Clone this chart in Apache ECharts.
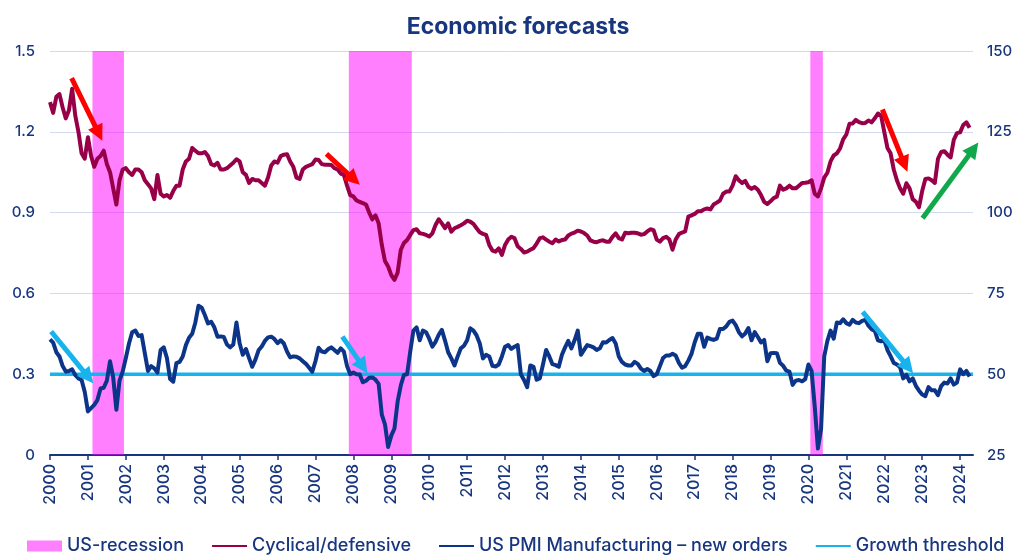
<!DOCTYPE html>
<html>
<head>
<meta charset="utf-8">
<title>Economic forecasts</title>
<script src="https://cdn.jsdelivr.net/npm/echarts@6/dist/echarts.min.js"></script>
<style>
html, body { margin: 0; padding: 0; background: #fff; }
#chart { width: 1017px; height: 555px; }
</style>
</head>
<body>
<div id="chart"></div>
<script>
// monthly series, Jan 2000 .. Apr 2024
var START_YEAR = 2000;
var X_MAX = 2024.34;
var YEARS = [];
for (var y = 2000; y <= 2024; y++) YEARS.push(y);

// Cyclical/defensive ratio (left axis)
var cyclicalDefensive = [
  1.31, 1.27, 1.33, 1.34, 1.29, 1.25, 1.28, 1.36, 1.26, 1.20, 1.12, 1.10, // 2000
  1.18, 1.11, 1.07, 1.10, 1.11, 1.13, 1.08, 1.05, 0.99, 0.93, 1.02, 1.06, // 2001
  1.065, 1.05, 1.04, 1.06, 1.06, 1.05, 1.02, 1.005, 0.99, 0.95, 1.04, 0.97,
  0.96, 0.965, 0.955, 0.98, 1.00, 1.00, 1.06, 1.09, 1.10, 1.14, 1.13, 1.12,
  1.12, 1.125, 1.11, 1.08, 1.075, 1.085, 1.06, 1.06, 1.065, 1.075, 1.085, 1.098,
  1.09, 1.05, 1.04, 1.01, 1.025, 1.02, 1.02, 1.01, 1.00, 1.03, 1.075, 1.09, // 2005
  1.085, 1.11, 1.115, 1.117, 1.09, 1.07, 1.03, 1.025, 1.06, 1.07, 1.075, 1.08,
  1.097, 1.095, 1.08, 1.078, 1.078, 1.077, 1.065, 1.06, 1.045, 1.04, 1.00, 0.965,
  0.96, 0.945, 0.94, 0.935, 0.93, 0.90, 0.875, 0.89, 0.86, 0.78, 0.72, 0.70,
  0.668, 0.65, 0.677, 0.761, 0.787, 0.798, 0.817, 0.835, 0.838, 0.823, 0.821, 0.817,
  0.811, 0.823, 0.854, 0.875, 0.86, 0.842, 0.86, 0.829, 0.842, 0.847, 0.853, 0.86, // 2010
  0.87, 0.866, 0.858, 0.842, 0.827, 0.821, 0.817, 0.78, 0.759, 0.755, 0.767, 0.743,
  0.78, 0.80, 0.81, 0.805, 0.775, 0.765, 0.752, 0.755, 0.762, 0.768, 0.785, 0.805,
  0.808, 0.80, 0.792, 0.786, 0.80, 0.793, 0.798, 0.80, 0.815, 0.822, 0.826, 0.833,
  0.83, 0.824, 0.815, 0.797, 0.792, 0.79, 0.795, 0.797, 0.792, 0.792, 0.81, 0.823,
  0.805, 0.80, 0.825, 0.823, 0.825, 0.825, 0.823, 0.818, 0.82, 0.83, 0.838, 0.835, // 2015
  0.80, 0.792, 0.805, 0.81, 0.80, 0.762, 0.80, 0.82, 0.826, 0.83, 0.885, 0.89,
  0.895, 0.905, 0.905, 0.912, 0.915, 0.912, 0.93, 0.937, 0.945, 0.97, 0.978, 0.978,
  1.0, 1.035, 1.02, 1.01, 1.018, 0.996, 0.988, 0.995, 0.985, 0.965, 0.94, 0.932,
  0.942, 0.954, 0.959, 1.00, 0.985, 0.99, 1.0, 0.99, 0.99, 1.0, 1.01, 1.011,
  1.013, 1.02, 0.97, 0.96, 0.99, 1.03, 1.048, 1.09, 1.112, 1.12, 1.138, 1.172, // 2020
  1.19, 1.23, 1.231, 1.244, 1.236, 1.232, 1.233, 1.242, 1.235, 1.25, 1.268, 1.26,
  1.20, 1.14, 1.12, 1.06, 1.02, 0.99, 0.97, 1.009, 0.99, 0.95, 0.94, 0.92,
  0.98, 1.025, 1.027, 1.02, 1.01, 1.10, 1.125, 1.128, 1.115, 1.105, 1.17, 1.195,
  1.198, 1.225, 1.235, 1.215 // 2024
];

// US PMI Manufacturing - new orders (right axis)
var pmiNewOrders = [
  60.8, 59.8, 56.8, 55.5, 52.5, 50.8, 51.0, 51.5, 49.7, 48.7, 48.2, 44.5, // 2000
  38.5, 39.5, 40.5, 42.0, 45.6, 45.8, 48.0, 54.0, 49.0, 39.0, 48.0, 50.8,
  55.0, 59.5, 63.0, 63.5, 61.8, 62.1, 56.5, 51.0, 52.5, 51.8, 50.5, 57.5,
  58.3, 55.0, 48.5, 47.7, 53.4, 53.8, 55.5, 59.0, 61.3, 62.5, 66.0, 71.2,
  70.6, 68.3, 65.7, 66.2, 64.5, 61.6, 61.7, 61.5, 59.2, 58.3, 59.2, 66.0,
  59.6, 56.0, 57.8, 55.0, 52.3, 54.5, 57.4, 58.6, 60.3, 61.4, 61.6, 60.9, // 2005
  59.6, 60.5, 59.5, 57.0, 55.2, 55.5, 55.4, 54.9, 54.0, 53.2, 52.0, 50.8,
  54.0, 58.2, 57.0, 56.8, 57.7, 58.3, 57.5, 56.6, 58.0, 57.0, 52.5, 50.0,
  50.5, 50.0, 49.9, 47.5, 48.0, 48.9, 49.0, 48.3, 47.0, 37.5, 34.5, 27.5,
  31.0, 33.2, 41.5, 46.5, 49.8, 50.0, 57.0, 63.5, 64.5, 60.5, 63.5, 63.0,
  61.0, 58.5, 60.0, 62.2, 63.7, 60.4, 56.8, 54.9, 52.7, 55.5, 58.0, 58.8, // 2010
  60.5, 64.2, 63.5, 62.0, 59.5, 54.9, 56.0, 55.5, 52.6, 52.4, 53.0, 55.5,
  58.5, 59.0, 57.8, 58.5, 59.0, 50.0, 48.2, 46.0, 52.7, 52.3, 48.3, 48.7,
  53.0, 57.5, 55.5, 53.1, 52.8, 52.3, 56.0, 58.3, 60.3, 58.0, 60.5, 63.5,
  56.0, 57.5, 59.0, 58.7, 58.3, 57.5, 58.0, 59.9, 59.8, 60.6, 61.2, 59.5,
  55.5, 53.8, 53.0, 52.7, 52.7, 53.8, 53.2, 51.7, 51.0, 51.6, 51.0, 49.4, // 2015
  50.0, 52.5, 55.0, 55.8, 55.8, 56.3, 55.8, 53.5, 52.0, 52.5, 54.2, 56.3,
  59.8, 62.5, 62.5, 58.5, 61.3, 60.9, 60.6, 61.0, 64.0, 64.0, 64.8, 66.2,
  66.6, 65.2, 63.0, 61.7, 62.6, 64.3, 60.5, 63.0, 61.5, 59.8, 60.6, 54.0,
  56.5, 56.6, 56.5, 53.5, 52.6, 51.1, 50.8, 46.7, 48.0, 48.2, 47.8, 48.5,
  53.0, 51.0, 40.0, 27.0, 33.0, 55.5, 60.3, 63.5, 61.0, 66.0, 65.8, 67.0, // 2020
  65.8, 65.3, 66.8, 66.0, 65.8, 66.5, 66.8, 65.0, 63.9, 63.5, 60.5, 60.2,
  60.5, 57.5, 55.6, 53.5, 53.0, 52.2, 48.7, 49.8, 47.8, 48.7, 46.4, 44.9,
  43.7, 43.2, 46.0, 45.0, 45.0, 43.5, 46.3, 47.4, 47.1, 48.7, 46.8, 47.4,
  51.5, 50.0, 51.0, 49.3 // 2024
];

var growthThreshold = 50;

// US recessions as [start, end] in decimal years
var recessions = [[2001.12, 2001.95], [2007.88, 2009.54], [2020.05, 2020.38]];

// annotation arrows: from / to in data coords
var leftArrows = [
  { from: [2000.57, 1.399], to: [2001.38, 1.167], color: '#FF0000' },
  { from: [2007.29, 1.118], to: [2008.17, 1.003], color: '#FF0000' },
  { from: [2021.95, 1.283], to: [2022.61, 1.052], color: '#FF0000' },
  { from: [2023.01, 0.879], to: [2024.48, 1.16], color: '#10A84B' }
];
var rightArrows = [
  { from: [2000.03, 63.2], to: [2001.14, 47.2], color: '#18B3EC' },
  { from: [2007.71, 61.6], to: [2008.37, 50.3], color: '#18B3EC' },
  { from: [2021.43, 69.3], to: [2022.76, 50.3], color: '#18B3EC' }
];

var NAVY = '#17367F';
var FONT = 'Inter, "Noto Sans", sans-serif';

function toPairs(values) {
  return values.map(function (v, i) { return [START_YEAR + i / 12, v]; });
}

function arrowRenderer(list) {
  return function (params, api) {
    var p = api.coord([api.value(0), api.value(1)]);
    var q = api.coord([api.value(2), api.value(3)]);
    var dx = q[0] - p[0], dy = q[1] - p[1];
    var len = Math.sqrt(dx * dx + dy * dy);
    var ux = dx / len, uy = dy / len;
    var head = 16, half = 8;
    var bx = q[0] - ux * head, by = q[1] - uy * head;
    var color = list[params.dataIndex].color;
    return {
      type: 'group',
      children: [
        { type: 'line', shape: { x1: p[0], y1: p[1], x2: bx + ux * 2, y2: by + uy * 2 },
          style: { stroke: color, lineWidth: 5 } },
        { type: 'polygon', shape: { points: [[q[0], q[1]], [bx - uy * half, by + ux * half], [bx + uy * half, by - ux * half]] },
          style: { fill: color } }
      ]
    };
  };
}

function arrowData(list) {
  return list.map(function (a) { return [a.from[0], a.from[1], a.to[0], a.to[1]]; });
}

var chart = echarts.init(document.getElementById('chart'));

var hideSymbol = { opacity: 0 };

chart.setOption({
  animation: false,
  backgroundColor: '#fff',
  textStyle: { fontFamily: FONT },
  title: {
    text: 'Economic forecasts',
    left: 513, textAlign: 'center', top: 11,
    textStyle: { color: NAVY, fontSize: 23, fontWeight: 'bold', fontFamily: FONT }
  },
  legend: {
    left: 22, top: 532,
    itemWidth: 35, itemHeight: 11, itemGap: 27,
    textStyle: { color: NAVY, fontSize: 18, fontWeight: 500, fontFamily: FONT },
    data: [
      { name: 'US-recession', icon: 'rect' },
      { name: 'Cyclical/defensive', itemStyle: hideSymbol },
      { name: 'US PMI Manufacturing – new orders', itemStyle: hideSymbol },
      { name: 'Growth threshold', itemStyle: hideSymbol }
    ]
  },
  grid: { left: 50, right: 44, top: 51, bottom: 100, outerBoundsMode: 'none' },
  xAxis: {
    type: 'value', min: START_YEAR, max: X_MAX,
    axisLine: { show: true, onZero: false, lineStyle: { color: NAVY, width: 2 } },
    axisTick: { show: true, customValues: YEARS, length: 5, lineStyle: { color: NAVY, width: 1.5 } },
    axisLabel: {
      customValues: YEARS, rotate: 90, margin: 9,
      color: NAVY, fontSize: 16, fontWeight: 500, fontFamily: FONT,
      formatter: function (v) { return String(v); }
    },
    splitLine: { show: false }
  },
  yAxis: [
    {
      type: 'value', min: 0, max: 1.5, interval: 0.3,
      axisLine: { show: false }, axisTick: { show: false },
      axisLabel: { color: NAVY, fontSize: 15, fontWeight: 500, fontFamily: FONT, margin: 15 },
      splitLine: { show: true, lineStyle: { color: '#D3DAEE', width: 1 } }
    },
    {
      type: 'value', min: 25, max: 150, interval: 25,
      axisLine: { show: false }, axisTick: { show: false },
      axisLabel: { color: NAVY, fontSize: 15, fontWeight: 500, fontFamily: FONT, margin: 14 },
      splitLine: { show: false }
    }
  ],
  series: [
    {
      name: 'US-recession', type: 'line', data: [], color: '#FF80FF',
      markArea: {
        silent: true,
        itemStyle: { color: 'rgba(255, 0, 255, 0.5)' },
        data: recessions.map(function (r) { return [{ xAxis: r[0] }, { xAxis: r[1] }]; })
      }
    },
    {
      name: 'Growth threshold', type: 'line', yAxisIndex: 1, symbol: 'none', z: 3,
      color: '#18B3EC', lineStyle: { color: '#18B3EC', width: 3.5 },
      data: [[START_YEAR, growthThreshold], [X_MAX, growthThreshold]]
    },
    {
      name: 'Cyclical/defensive', type: 'line', yAxisIndex: 0, symbol: 'none', z: 4,
      color: '#970048', lineStyle: { color: '#970048', width: 4, join: 'round' },
      data: toPairs(cyclicalDefensive)
    },
    {
      name: 'US PMI Manufacturing – new orders', type: 'line', yAxisIndex: 1, symbol: 'none', z: 4,
      color: '#0C3589', lineStyle: { color: '#0C3589', width: 4, join: 'round' },
      data: toPairs(pmiNewOrders)
    },
    {
      name: 'arrows-left', type: 'custom', yAxisIndex: 0, clip: false, silent: true, z: 6,
      renderItem: arrowRenderer(leftArrows), data: arrowData(leftArrows)
    },
    {
      name: 'arrows-right', type: 'custom', yAxisIndex: 1, clip: false, silent: true, z: 6,
      renderItem: arrowRenderer(rightArrows), data: arrowData(rightArrows)
    }
  ]
});
</script>
</body>
</html>
